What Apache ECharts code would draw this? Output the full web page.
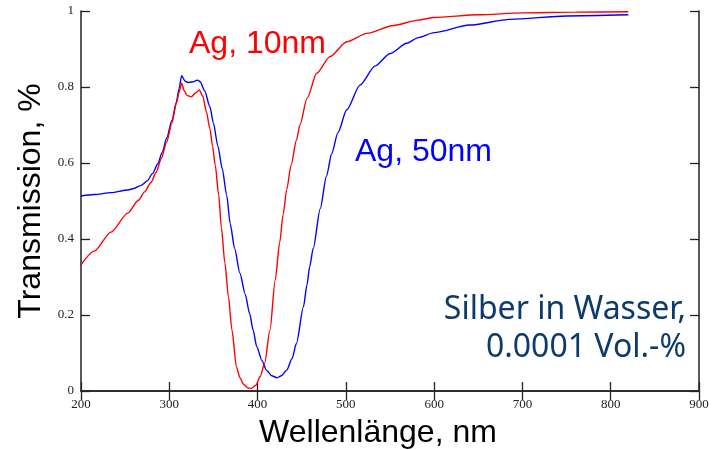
<!DOCTYPE html>
<html>
<head>
<meta charset="utf-8">
<script src="https://cdn.jsdelivr.net/npm/echarts@6/dist/echarts.min.js"></script>
<style>
  html, body { margin: 0; padding: 0; background: #fff; }
  #chart { width: 725px; height: 450px; }
</style>
</head>
<body>
<div id="chart"></div>
<script>
// Ag, 10nm (rot)
const wl10 = [200, 215, 234, 253, 265, 272, 279, 285, 291, 297, 303, 308, 311, 314, 317, 320, 325, 330, 334, 338, 342, 346, 349, 352, 356, 359, 363, 367, 371, 376, 380, 384, 389, 393, 398, 403, 408, 414, 420, 425, 429, 433, 438, 444, 448, 456, 467, 482, 501, 524, 554, 582, 600, 650, 700, 760, 820];
const t10 = [0.332, 0.368, 0.418, 0.468, 0.502, 0.524, 0.548, 0.575, 0.612, 0.655, 0.705, 0.757, 0.785, 0.81, 0.79, 0.778, 0.774, 0.785, 0.792, 0.775, 0.735, 0.69, 0.645, 0.595, 0.515, 0.43, 0.336, 0.248, 0.16, 0.064, 0.035, 0.018, 0.008, 0.007, 0.015, 0.038, 0.073, 0.16, 0.292, 0.39, 0.465, 0.53, 0.595, 0.66, 0.70, 0.77, 0.836, 0.88, 0.919, 0.941, 0.962, 0.976, 0.983, 0.99, 0.995, 0.997, 0.998];

// Ag, 50nm (blau)
const wl50 = [200, 215, 234, 253, 260, 268, 275, 281, 287, 292, 297, 303, 308, 311, 314, 318, 321, 326, 332, 335, 340, 346, 350, 355, 360, 365, 369, 374, 380, 386, 391, 395, 399, 405, 410, 416, 422, 427, 433, 439, 444, 452, 456, 459, 463, 471, 478, 484, 491, 501, 516, 533, 550, 569, 582, 600, 640, 686, 750, 820];
const t50 = [0.513, 0.517, 0.522, 0.529, 0.533, 0.541, 0.553, 0.572, 0.598, 0.628, 0.665, 0.712, 0.76, 0.795, 0.83, 0.815, 0.812, 0.813, 0.818, 0.814, 0.79, 0.748, 0.705, 0.645, 0.585, 0.515, 0.44, 0.375, 0.31, 0.255, 0.204, 0.16, 0.117, 0.08, 0.055, 0.04, 0.035, 0.04, 0.055, 0.085, 0.125, 0.222, 0.28, 0.327, 0.375, 0.48, 0.565, 0.625, 0.68, 0.74, 0.805, 0.855, 0.888, 0.915, 0.93, 0.943, 0.963, 0.978, 0.987, 0.99];

const xTicks = [200, 300, 400, 500, 600, 700, 800, 900];
const yTicks = ['0', '0.2', '0.4', '0.6', '0.8', '1'];

(function () {
    let chart = echarts.init(document.querySelector("#chart"));

    const serif = "'Liberation Serif', 'DejaVu Serif', serif";
    const sans = "'Liberation Sans', Arial, sans-serif";
    const tickStyle = { show: true, inside: true, length: 9, lineStyle: { color: '#222', width: 1.3 } };
    const lineStyle = { color: '#222', width: 1.5 };

    let option = {
        animation: false,
        grid: { left: 81, top: 11, right: 26, bottom: 59, outerBoundsMode: 'none' },
        xAxis: [
            {
                type: 'value', min: xTicks[0], max: xTicks[xTicks.length - 1], interval: 100,
                axisLine: { lineStyle: lineStyle },
                axisTick: tickStyle,
                splitLine: { show: false },
                axisLabel: { fontFamily: serif, fontSize: 13, color: '#222', margin: 7 },
                name: 'Wellenlänge, nm', nameLocation: 'middle', nameGap: 26,
                nameTextStyle: { fontFamily: sans, fontSize: 32, color: '#000', verticalAlign: 'top', padding: [0, 24, 0, 0] }
            },
            {
                type: 'value', position: 'top', min: 200, max: 900, interval: 100,
                axisLine: { show: true, lineStyle: lineStyle },
                axisTick: tickStyle,
                axisLabel: { show: false },
                splitLine: { show: false }
            }
        ],
        yAxis: [
            {
                type: 'value', min: 0, max: 1, interval: 0.2,
                axisLine: { lineStyle: lineStyle },
                axisTick: tickStyle,
                splitLine: { show: false },
                axisLabel: {
                    fontFamily: serif, fontSize: 13, color: '#222', margin: 7,
                    formatter: v => yTicks[Math.round(v * 5)]
                },
                name: 'Transmission, %', nameLocation: 'middle', nameGap: 30,
                nameTextStyle: { fontFamily: sans, fontSize: 32, color: '#000' }
            },
            {
                type: 'value', position: 'right', min: 0, max: 1, interval: 0.2,
                axisLine: { show: true, lineStyle: lineStyle },
                axisTick: tickStyle,
                axisLabel: { show: false },
                splitLine: { show: false }
            }
        ],
        series: [
            {
                name: 'Ag, 50nm', type: 'line', showSymbol: false, smooth: 0.25, smoothMonotone: 'x',
                lineStyle: { color: '#0000ff', width: 1.4 },
                data: wl50.map((x, i) => [x, t50[i]])
            },
            {
                name: 'Ag, 10nm', type: 'line', showSymbol: false, smooth: 0.25, smoothMonotone: 'x',
                lineStyle: { color: '#ff0000', width: 1.4 },
                data: wl10.map((x, i) => [x, t10[i]])
            }
        ],
        graphic: [
            { type: 'text', left: 189, top: 28, style: { text: 'Ag, 10nm', fill: '#ff0000', font: "32px 'Liberation Sans', Arial, sans-serif" } },
            { type: 'text', left: 355, top: 136, style: { text: 'Ag, 50nm', fill: '#0000ff', font: "32px 'Liberation Sans', Arial, sans-serif" } },
            { type: 'text', right: 39, top: 294, style: { text: 'Silber in Wasser,', fill: '#0d3a6c', font: "32px 'Noto Sans', 'Open Sans', sans-serif", align: 'right' } },
            { type: 'text', right: 39, top: 332, style: { text: '0.0001 Vol.-%', fill: '#0d3a6c', font: "32px 'Noto Sans', 'Open Sans', sans-serif", align: 'right' } }
        ]
    };

    chart.setOption(option);
})();
</script>
</body>
</html>
